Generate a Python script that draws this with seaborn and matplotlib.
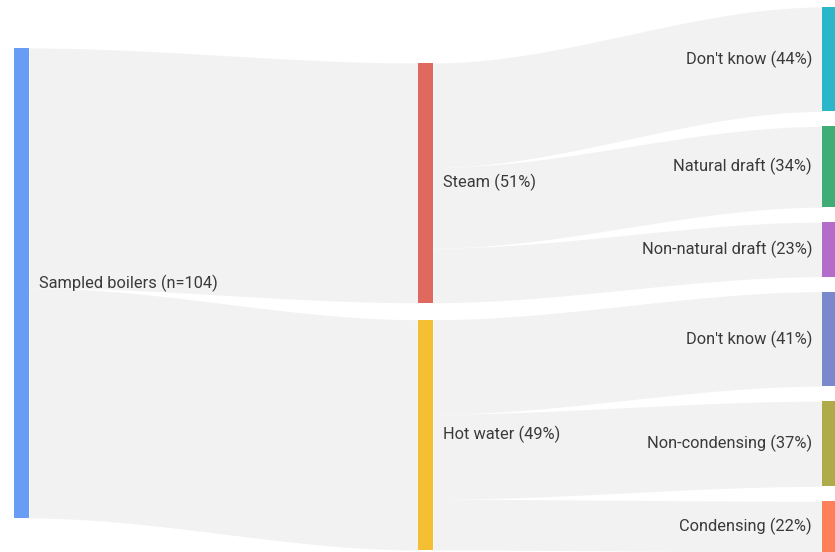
import numpy as np
import matplotlib
matplotlib.use("Agg")
import matplotlib.pyplot as plt
import seaborn as sns

# ---- data -------------------------------------------------------------
root_label = "Sampled boilers (n=104)"
root_n = 104

mid_names = ["Steam", "Hot water"]
mid_pct = [51, 49]

steam_names = ["Don't know", "Natural draft", "Non-natural draft"]
steam_pct = [44, 34, 23]

hot_names = ["Don't know", "Non-condensing", "Condensing"]
hot_pct = [41, 37, 22]

root_color = "#699cf4"
mid_colors = ["#e0695f", "#f4bf32"]
leaf_colors = ["#2ab7c9", "#41ad76", "#b46ccb", "#7a88cd", "#afab4b", "#fd805a"]

# ---- styling ----------------------------------------------------------
sns.set_theme(style="white")
plt.rcParams["font.family"] = ["Roboto", "DejaVu Sans"]

W, H = 835, 552
fig = plt.figure(figsize=(W / 100, H / 100), dpi=100)
ax = fig.add_axes([0, 0, 1, 1])
ax.set_xlim(0, W)
ax.set_ylim(H, 0)
ax.axis("off")

link_color = "#f2f2f2"
text_color = "#3a3a3a"
fs = 11.8

node_w = 15
col_x = [14, 418, 822]
root_top, root_h = 48, 470
mid_top, mid_gap = 63, 17
leaf_top, leaf_gap = 7, 15

scale = root_h / root_n


def link(x0, x1, a0, a1, b0, b1):
    """Filled band from [a0,a1] at x0 to [b0,b1] at x1 with an S-curve."""
    xs = np.linspace(x0, x1, 120)
    t = (xs - x0) / (x1 - x0)
    s = 3 * t ** 2 - 2 * t ** 3
    top = a0 + (b0 - a0) * s
    bot = a1 + (b1 - a1) * s
    ax.fill_between(xs, top, bot, color=link_color, lw=0, zorder=1)


def node(x, y, h, color):
    ax.add_patch(plt.Rectangle((x, y), node_w, h, color=color, lw=0, zorder=3))


# root node
node(col_x[0], root_top, root_h, root_color)
ax.text(col_x[0] + node_w + 10, root_top + root_h / 2, root_label,
        ha="left", va="center", fontsize=fs, color=text_color, zorder=4)

# middle nodes and links from the root
mid_h = [root_h * p / sum(mid_pct) for p in mid_pct]
src_y = root_top
y = mid_top
mid_y = []
for name, pct, h, c in zip(mid_names, mid_pct, mid_h, mid_colors):
    link(col_x[0] + node_w, col_x[1], src_y, src_y + h, y, y + h)
    mid_y.append(y)
    src_y += h
    y += h + mid_gap

for name, pct, h, c, yy in zip(mid_names, mid_pct, mid_h, mid_colors, mid_y):
    node(col_x[1], yy, h, c)
    ax.text(col_x[1] + node_w + 10, yy + h / 2, f"{name} ({pct}%)",
            ha="left", va="center", fontsize=fs, color=text_color, zorder=4)

# leaf nodes and links from the middle column
groups = [(steam_names, steam_pct), (hot_names, hot_pct)]
y = leaf_top
ci = 0
for (names, pcts), mh, my in zip(groups, mid_h, mid_y):
    src_y = my
    for name, p in zip(names, pcts):
        h = mh * p / sum(pcts)
        link(col_x[1] + node_w, col_x[2], src_y, src_y + h, y, y + h)
        node(col_x[2], y, h, leaf_colors[ci])
        ax.text(col_x[2] - 10, y + h / 2, f"{name} ({p}%)",
                ha="right", va="center", fontsize=fs, color=text_color, zorder=4)
        src_y += h
        y += h + leaf_gap
        ci += 1

fig.savefig("out.png", dpi=100, facecolor="white")
